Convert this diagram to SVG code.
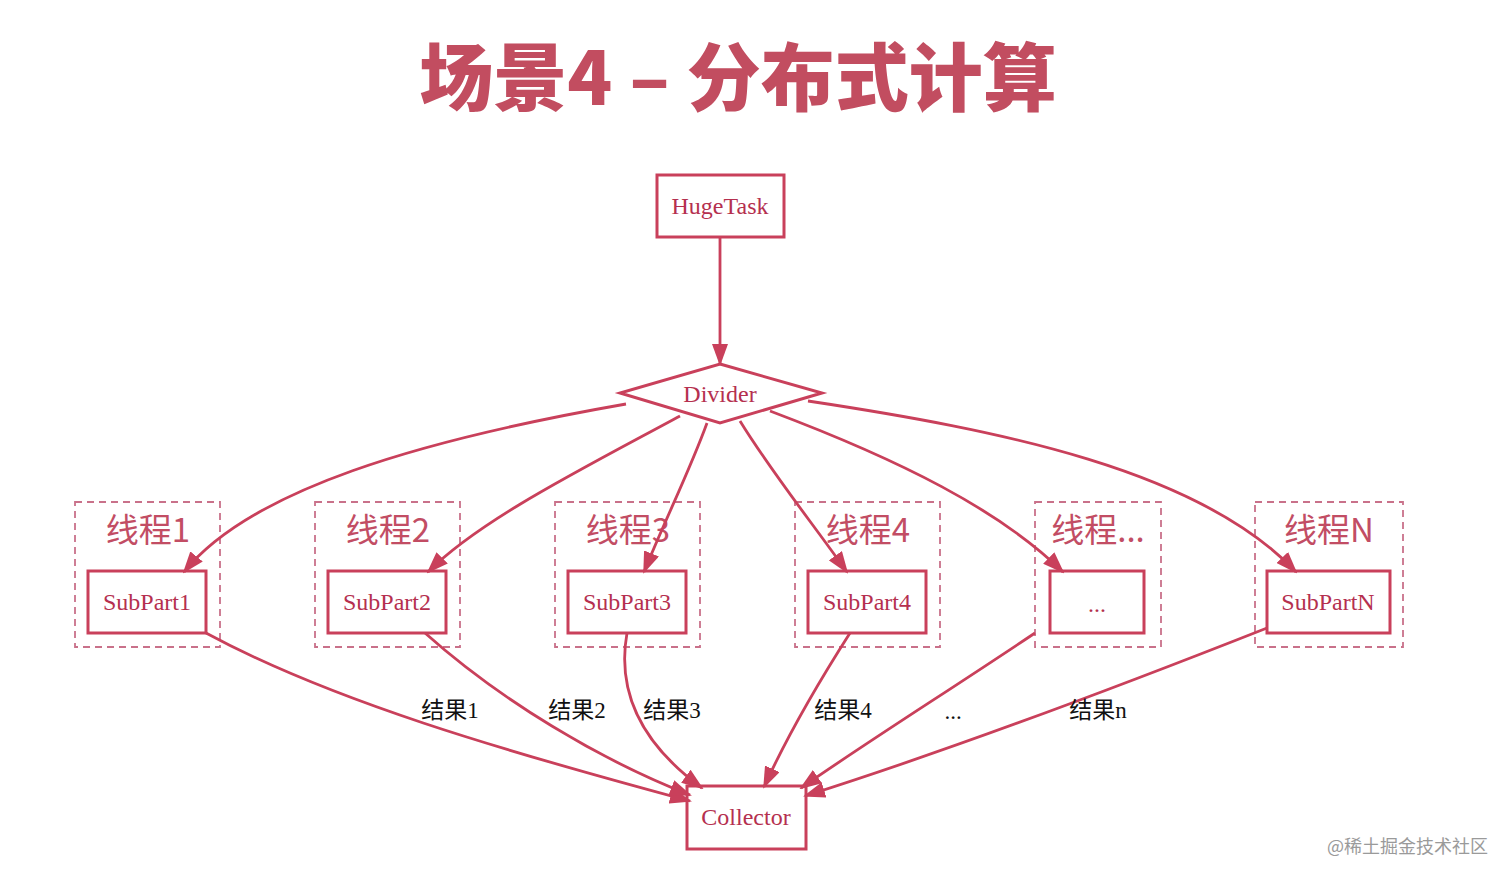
<svg xmlns="http://www.w3.org/2000/svg" width="1512" height="879" viewBox="0 0 1512 879">
<defs>
<marker id="arr" markerUnits="userSpaceOnUse" markerWidth="22" markerHeight="16" viewBox="0 0 22 16" refX="20" refY="8" orient="auto">
<path d="M0,0 L22,8 L0,16 Z" fill="#c9405b"/>
</marker>
<style>
.node{fill:#fff;stroke:#c9405b;stroke-width:3}
.grp{fill:none;stroke:#c9718a;stroke-width:1.8;stroke-dasharray:7,5}
.lbl{font-family:"Liberation Serif","Noto Sans CJK SC",serif;font-size:24px;fill:#b5304f;text-anchor:middle;dominant-baseline:central}
.th{font-family:"Noto Sans CJK SC","Noto Sans",sans-serif;font-size:33px;fill:#c24d64;text-anchor:middle;dominant-baseline:central}
.edge{fill:none;stroke:#c9405b;stroke-width:2.8;marker-end:url(#arr)}
.el{font-family:"Liberation Serif","Noto Sans CJK SC",serif;font-size:23px;fill:#111;text-anchor:middle;dominant-baseline:central}
</style>
</defs>
<rect width="1512" height="879" fill="#fff"/>
<text x="738" y="72" font-family="Noto Sans CJK SC, sans-serif" font-weight="900" font-size="74" fill="#c24d60" text-anchor="middle" dominant-baseline="central">场景4 – 分布式计算</text>

<g id="thread1"><rect class="grp" x="75" y="502" width="145" height="145"/><text class="th" x="148" y="528">线程1</text></g>
<g id="thread2"><rect class="grp" x="315" y="502" width="145" height="145"/><text class="th" x="388" y="528">线程2</text></g>
<g id="thread3"><rect class="grp" x="555" y="502" width="145" height="145"/><text class="th" x="628" y="528">线程3</text></g>
<g id="thread4"><rect class="grp" x="795" y="502" width="145" height="145"/><text class="th" x="868" y="528">线程4</text></g>
<g id="threadx"><rect class="grp" x="1035" y="502" width="126" height="145"/><text class="th" x="1098" y="528">线程...</text></g>
<g id="threadN"><rect class="grp" x="1255" y="502" width="148" height="145"/><text class="th" x="1329" y="528">线程N</text></g>

<g id="hugetask"><rect class="node" x="657" y="175" width="127" height="62"/><text class="lbl" x="720" y="206">HugeTask</text></g>
<g id="divider"><polygon class="node" points="720,364 822,393 720,423 620,393"/><text class="lbl" x="720" y="394">Divider</text></g>
<g id="subpart1"><rect class="node" x="88" y="571" width="118" height="62"/><text class="lbl" x="147" y="602">SubPart1</text></g>
<g id="subpart2"><rect class="node" x="328" y="571" width="118" height="62"/><text class="lbl" x="387" y="602">SubPart2</text></g>
<g id="subpart3"><rect class="node" x="568" y="571" width="118" height="62"/><text class="lbl" x="627" y="602">SubPart3</text></g>
<g id="subpart4"><rect class="node" x="808" y="571" width="118" height="62"/><text class="lbl" x="867" y="602">SubPart4</text></g>
<g id="subpartx"><rect class="node" x="1050" y="571" width="94" height="62"/><text class="lbl" x="1097" y="604">...</text></g>
<g id="subpartN"><rect class="node" x="1267" y="571" width="123" height="62"/><text class="lbl" x="1328" y="602">SubPartN</text></g>
<g id="collector"><rect class="node" x="687" y="786" width="119" height="63"/><text class="lbl" x="746" y="817">Collector</text></g>

<g id="connectors">
<path class="edge" d="M720,237 L720,364"/>
<path class="edge" d="M626,404 C420,440 250,490 184,572"/>
<path class="edge" d="M680,416 C580,470 480,520 428,572"/>
<path class="edge" d="M707,423 C690,470 665,520 644,572"/>
<path class="edge" d="M740,421 C770,470 810,520 847,572"/>
<path class="edge" d="M770,411 C900,460 1000,510 1063,572"/>
<path class="edge" d="M808,401 C1000,430 1200,470 1296,572"/>
<path class="edge" d="M206,633 C330,700 500,750 690,801"/>
<path class="edge" d="M425,633 C500,700 600,760 690,795"/>
<path class="edge" d="M627,633 C615,700 650,750 702,788"/>
<path class="edge" d="M850,633 C820,680 790,730 764,787"/>
<path class="edge" d="M1035,633 C950,690 870,740 801,788"/>
<path class="edge" d="M1267,628 C1110,690 950,750 805,796"/>
</g>
<g id="edge-labels">
<text class="el" x="450" y="710">结果1</text>
<text class="el" x="577" y="710">结果2</text>
<text class="el" x="672" y="710">结果3</text>
<text class="el" x="843" y="710">结果4</text>
<text class="el" x="953" y="711">...</text>
<text class="el" x="1098" y="710">结果n</text>
</g>
<text x="1488" y="845" font-family="Noto Sans CJK SC, sans-serif" font-size="18" fill="#9a9a9a" text-anchor="end" dominant-baseline="central">@稀土掘金技术社区</text>
</svg>
